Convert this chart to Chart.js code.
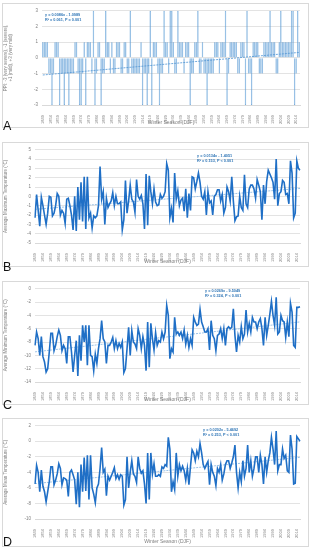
<!DOCTYPE html>
<html>
<head>
<meta charset="utf-8">
<script src="https://cdn.jsdelivr.net/npm/chart.js@4"></script>
<style>
body { margin: 0; background: #fff; }
#page { position: relative; width: 311px; height: 550px; overflow: hidden; font-family: "Liberation Sans", Arial, sans-serif; }
.frame { position: absolute; left: 2px; width: 305px; border: 1px solid #d9d9d9; background: #fff; }
.frame canvas { display: block; }
.tag { position: absolute; left: 3px; font-size: 12.5px; line-height: 1; color: #111; }
</style>
</head>
<body>
<div id="page">
	<div class="frame" style="top:3px;height:123px"><canvas id="chartA" width="305" height="123"></canvas></div>
	<div class="frame" style="top:142px;height:123px"><canvas id="chartB" width="305" height="123"></canvas></div>
	<div class="frame" style="top:281px;height:122px"><canvas id="chartC" width="305" height="122"></canvas></div>
	<div class="frame" style="top:418px;height:127px"><canvas id="chartD" width="305" height="127"></canvas></div>
	<div class="tag" style="top:120px">A</div>
	<div class="tag" style="top:261px">B</div>
	<div class="tag" style="top:399px">C</div>
	<div class="tag" style="top:536px">D</div>
</div>
<script>
(function () {
	'use strict';

	// Winter seasons 1849 .. 2016 (168 seasons), labelled every 5th year.
	var firstYear = 1849;
	var lastYear  = 2016;
	var years = [];
	for (var yr = firstYear; yr <= lastYear; yr++) years.push(String(yr));

	// A – winter severity class
	var ppi = [
		1, 1, 1, 1, -1, -1, -3, -1, 1, 1,
		1, -3, -1, -1, -3, -1, -1, -3, -1, -1,
		-1, 1, 1, -1, -3, -3, -1, 1, -3, 1,
		1, 1, -1, 3, -3, -1, 1, 1, -3, -1,
		-1, 3, 1, 1, -1, 1, -1, -1, 1, 1,
		1, -1, -1, 1, 1, -1, -1, 3, -1, -1,
		-1, -1, -1, -1, 1, -3, -1, -1, -3, -1,
		3, -3, 1, 1, 1, -1, -3, -1, -1, 3,
		1, 1, -1, 3, 3, 1, -1, -1, 3, 1,
		1, 1, -1, 1, 1, 1, -3, -1, -1, 1,
		1, 3, -1, -1, 1, -1, -1, -3, -1, -1,
		-1, -1, 1, 1, 1, -1, 1, 1, 1, 3,
		-3, -1, 1, 1, 1, 1, 1, -1, -1, 1,
		1, 1, -3, 3, -1, -1, -3, 1, 1, 1,
		1, -1, -1, -1, 1, 1, 1, 1, 3, 1,
		1, 1, -1, -1, 1, 3, 1, 1, 1, 1,
		1, 1, 3, 3, -3, -1, 3, 1
	];

	// B – average maximum temperature (°C)
	var tMax = [
		-2.3, 0.2, -1.5, -3.2, -0.1, -1, -2, -3, -1.8, 0,
		-0.1, -2.1, -1.8, -1, 0.3, 0, -2, -1.5, -1.8, -2.9,
		-0.3, -0.2, -1, -2, -3.6, 0, -3.7, 1, -2.5, 1.5,
		-2.7, 2.1, -3.5, 2.1, -2.3, -1.8, -3.4, -2.1, -2.3, -2.1,
		-1, 3.2, -0.3, 0.5, -3, -0.2, -1.2, -0.8, -0.5, 0.4,
		-1, 0, -0.8, -0.8, -0.6, -3.6, -2.5, 1.7, -1.8, -0.5,
		1.2, -0.3, -0.6, -1.7, 1.8, 0, -0.3, 0.1, -0.8, -3.5,
		2.4, -3.1, 2.2, 0.5, -0.8, 0.8, -0.6, -1, -0.9, 0.2,
		-0.2, 0, 0.5, 3.5, 2.8, -2.3, -1.3, -2.8, 2.5, -0.3,
		0.6, -1, -0.4, -0.2, -1.6, 0.8, -2.3, 0.3, -1.5, 2.1,
		2.0, 0.8, 1.6, 2.5, 1.5, 0, -0.3, 0.5, -2, 0.5,
		-0.7, -0.5, -2, 0, 0.2, 0.7, 0.7, -0.5, 0.2, -1.8,
		-1.2, 1, 0.5, -0.5, 2.1, -0.5, -2.6, -2.2, -2.1, 0,
		-1.2, -1.5, 2.3, -0.8, -1.2, 0.8, 1.2, 1.2, 0.8, -0.2,
		1.8, 1.2, 0.5, -2.5, 1.2, -0.8, 1.6, 2.8, 2.4, 2,
		1.5, -0.3, 4.0, -1, 0.3, 0.5, 1.7, 1.5, 0.2, 0.3,
		-0.8, 3.8, 2.5, -2.3, -1.8, 3.8, 3.0, 2.8
	];

	// C – average minimum temperature (°C)
	var tMin = [
		-8.5, -6.5, -7.5, -10, -7.2, -10.2, -11, -12.5, -12, -9.5,
		-6.7, -6.7, -9.3, -8.5, -7.2, -6.2, -7, -9.3, -8.5, -9,
		-11.2, -7.2, -7.2, -9.5, -12.5, -10, -7.8, -13.1, -7, -10.8,
		-5.5, -8, -5.5, -11.5, -5.5, -10, -10.2, -12.3, -9.8, -11.2,
		-9, -7.5, -4.8, -7.5, -8, -11.2, -8.5, -8.5, -8, -7.3,
		-9, -7.8, -9, -8.2, -8.8, -8, -12.6, -12, -9, -5.8,
		-10, -6.3, -8, -8.3, -9, -6, -7, -9, -7.2, -8.5,
		-12.3, -5, -11.8, -5.2, -7.5, -9.2, -6.6, -8.5, -7.8, -8,
		-6.5, -7.5, -6.5, -2.5, -4, -10.5, -9, -9.5, -4.3, -6.8,
		-6.5, -7, -6.5, -7.5, -6.2, -8.3, -7, -8.8, -7.5, -8.5,
		-4.3, -5, -5.5, -5.3, -3.1, -5, -5.7, -6.5, -6.5, -6,
		-9.2, -4.8, -7, -7.5, -9.3, -7, -6.8, -6, -7.5, -6,
		-8.5, -6, -5.7, -6, -5.8, -3, -7, -9.5, -7, -8,
		-5.7, -7.5, -6.8, -3.2, -6.5, -5.2, -6.5, -4.3, -5, -5,
		-6, -5, -4.5, -6, -8.5, -4.3, -7, -5.5, -3.8, -1.9,
		-4, -5.5, -1.3, -6.8, -6.5, -4, -4.8, -5, -7.3, -5,
		-7.2, -2.2, -3.5, -8.5, -8.8, -2.8, -2.8, -2.7
	];

	// D – average mean temperature (°C)
	var tMean = [
		-5.5, -3.1, -4, -6.5, -3.7, -5.8, -6.5, -7.8, -6.5, -5.2,
		-3.3, -3.3, -5.6, -5, -4.2, -2.9, -3.5, -5.6, -4.7, -4.8,
		-5, -7.1, -4, -3.7, -4.3, -5, -8.1, -4, -8.5, -3,
		-6.5, -2.1, -6.4, -1.8, -7.5, -1.8, -6, -6.8, -7.9, -6,
		-5.5, -3.5, -0.8, -4, -3.6, -7, -4.5, -5, -4.5, -4,
		-3.4, -4.8, -4.3, -4.9, -4.3, -4.5, -8.2, -7.5, -2, -6,
		-4, -2.5, -4.2, -4.5, -5.3, -2, -3.5, -4.1, -3.8, -5.5,
		-8, -1.5, -7.5, -1.5, -4.2, -2.9, -4.5, -4.5, -4.3, -4.5,
		-3.3, -3.5, -3, -3.2, 0.5, -1, -6.5, -5.2, -6.2, -1.5,
		-4.5, -3, -3.8, -3.2, -3.8, -5, -3.5, -5.6, -3.2, -1.1,
		-1.5, -2.5, -1.3, -2, -0.3, -1.5, -3, -3.5, -3, -2.6,
		-5.6, -3, -4, -4.5, -5.7, -3.5, -4, -3, -5, -4.2,
		-3, -2.5, -2.5, -3.5, -2.8, -2, -0.5, -4, -6, -4,
		-5.2, -2.5, -4.5, -3.5, -0.5, -4, -2.5, -4.5, -3.5, -2,
		-2, -4, -1.8, -3, -5.5, -2, -4, -2.5, -1.5, 0.5,
		-1, -3, 1.3, -3.8, -3, -3, -1, -2.2, -1.8, -3.8,
		-4, 0.8, -1, -5.5, -5.4, 0.6, 0.3, 0
	];

	// Linear trends as printed on the panels (x = season number 1..168)
	var trendSlope     = [0.0086, 0.0134, 0.0269, 0.0202];
	var trendIntercept = [-1.0989, -1.4051, -9.5049, -5.4692];
	var eqLines = [
		['y = 0.0086x - 1.0989', 'R\u00b2 = 0.061, P = 0.001'],
		['y = 0.0134x - 1.4051', 'R\u00b2 = 0.153, P < 0.001'],
		['y = 0.0269x - 9.5049', 'R\u00b2 = 0.324, P < 0.001'],
		['y = 0.0202x - 5.4692', 'R\u00b2 = 0.253, P < 0.001']
	];

	var FONT = '"Liberation Sans", Arial, sans-serif';
	var GREY = '#7f7f7f';

	function trendData(k) {
		var t = years.map(function () { return null; });
		t[0] = trendSlope[k] * 1 + trendIntercept[k];
		t[years.length - 1] = trendSlope[k] * years.length + trendIntercept[k];
		return t;
	}

	// Regression text drawn straight on the canvas.
	var eqText = {
		id: 'eqText',
		afterDraw: function (chart, args, o) {
			var c = chart.ctx;
			c.save();
			c.font = 'bold 3.8px ' + FONT;
			c.fillStyle = '#2e75b6';
			c.textBaseline = 'middle';
			o.lines.forEach(function (t, k) { c.fillText(t, o.x, o.y + k * 5); });
			c.restore();
		}
	};

	function options(p) {
		return {
			responsive: false,
			animation: false,
			devicePixelRatio: 1,
			layout: { padding: { top: p.top, right: 8, left: 0, bottom: 0 } },
			plugins: {
				legend: { display: false },
				tooltip: { enabled: false },
				eqText: { x: p.eqX, y: p.eqY, lines: p.eq }
			},
			scales: {
				x: {
					offset: p.offset,
					grid: { display: false },
					border: { color: '#d9d9d9' },
					ticks: {
						autoSkip: false,
						minRotation: 90,
						maxRotation: 90,
						padding: 2,
						color: GREY,
						font: { size: 4, family: FONT },
						callback: function (v, i) { return i % 5 === 0 ? years[i] : ''; }
					},
					title: {
						display: true,
						text: 'Winter Season (DJF)',
						color: GREY,
						font: { size: 5, family: FONT },
						padding: { top: 0, bottom: 1 }
					},
					afterFit: function (s) { s.height = p.xh; }
				},
				y: {
					min: p.min,
					max: p.max,
					grid: { color: '#e3e3e3', drawTicks: false },
					border: { display: false },
					ticks: {
						stepSize: p.step,
						padding: 4,
						color: GREY,
						font: { size: 4.5, family: FONT }
					},
					title: {
						display: true,
						text: p.title,
						color: GREY,
						font: { size: 4.5, family: FONT },
						padding: { top: 0, bottom: 1 }
					},
					afterFit: function (s) { s.width = p.yw; }
				}
			}
		};
	}

	function trendSet(k, color) {
		return {
			type: 'line',
			data: trendData(k),
			borderColor: color,
			borderWidth: 1,
			borderDash: [2, 1],
			pointRadius: 0,
			spanGaps: true
		};
	}

	function lineSet(vals) {
		return {
			type: 'line',
			data: vals,
			borderColor: '#1f6fc6',
			borderWidth: 1.6,
			pointRadius: 0,
			tension: 0
		};
	}

	new Chart(document.getElementById('chartA'), {
		type: 'bar',
		data: {
			labels: years,
			datasets: [
				{
					data: ppi,
					backgroundColor: 'rgba(91,155,213,0.42)',
					borderColor: '#5b9bd5',
					borderWidth: 0.5,
					barPercentage: 1,
					categoryPercentage: 0.95
				},
				trendSet(0, '#6fa8dc')
			]
		},
		options: options({
			top: 5, xh: 22, yw: 39, offset: true,
			min: -3, max: 3, step: 1,
			title: ['PPI: -3 (very severe), -1 (severe),', '+1 (mild), +3 (very mild)'],
			eqX: 42, eqY: 11, eq: eqLines[0]
		}),
		plugins: [eqText]
	});

	new Chart(document.getElementById('chartB'), {
		type: 'line',
		data: { labels: years, datasets: [lineSet(tMax), trendSet(1, '#9dc3e6')] },
		options: options({
			top: 5, xh: 23, yw: 32, offset: false,
			min: -5, max: 5, step: 1,
			title: 'Average Maximum Temperature (\u00b0C)',
			eqX: 194, eqY: 13, eq: eqLines[1]
		}),
		plugins: [eqText]
	});

	new Chart(document.getElementById('chartC'), {
		type: 'line',
		data: { labels: years, datasets: [lineSet(tMin), trendSet(2, '#9dc3e6')] },
		options: options({
			top: 4, xh: 22, yw: 32, offset: false,
			min: -14, max: 0, step: 2,
			title: 'Average Minimum Temperature (\u00b0C)',
			eqX: 202, eqY: 9, eq: eqLines[2]
		}),
		plugins: [eqText]
	});

	new Chart(document.getElementById('chartD'), {
		type: 'line',
		data: { labels: years, datasets: [lineSet(tMean), trendSet(3, '#9dc3e6')] },
		options: options({
			top: 5, xh: 27, yw: 32, offset: false,
			min: -10, max: 2, step: 2,
			title: 'Average Mean Temperature (\u00b0C)',
			eqX: 200, eqY: 11, eq: eqLines[3]
		}),
		plugins: [eqText]
	});
}());
</script>
</body>
</html>
